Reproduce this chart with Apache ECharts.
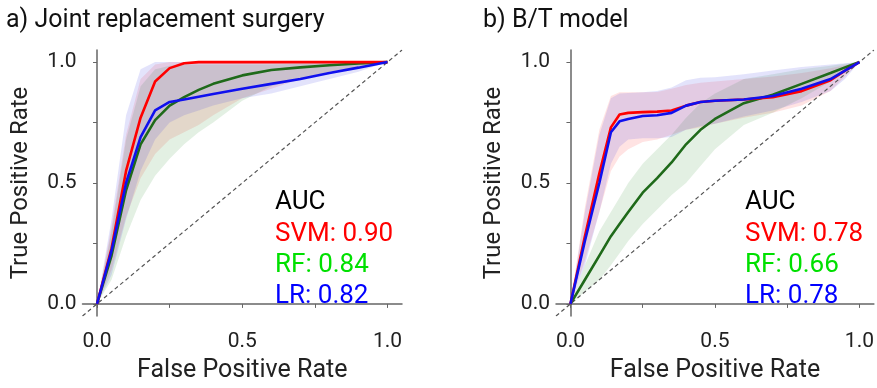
<!DOCTYPE html>
<html>
<head>
<meta charset="utf-8">
<script src="https://cdn.jsdelivr.net/npm/echarts@6/dist/echarts.min.js"></script>
<style>
  html, body { margin: 0; padding: 0; background: #fff; }
  #main { width: 877px; height: 388px; }
</style>
</head>
<body>
<div id="main"></div>
<script>
  // panel a) Joint replacement surgery
  var fprA = [0, 0.05, 0.1, 0.15, 0.2, 0.25, 0.3, 0.35, 0.4, 0.5, 0.6, 0.7, 0.8, 0.9, 1.0];
  var svmA = [0, 0.23, 0.55, 0.77, 0.92, 0.975, 0.995, 1, 1, 1, 1, 1, 1, 1, 1];
  var svmAHigh = [0, 0.32, 0.7, 0.93, 0.99, 1, 1, 1, 1, 1, 1, 1, 1, 1, 1];
  var svmALow = [0, 0.14, 0.36, 0.52, 0.62, 0.68, 0.71, 0.74, 0.78, 0.85, 0.89, 0.93, 0.96, 0.98, 1];
  var rfA = [0, 0.2, 0.47, 0.66, 0.76, 0.82, 0.855, 0.885, 0.91, 0.945, 0.967, 0.978, 0.987, 0.994, 1];
  var rfAHigh = [0, 0.3, 0.68, 0.9, 0.97, 0.985, 0.99, 0.99, 0.99, 0.99, 0.99, 0.993, 0.995, 0.998, 1];
  var rfALow = [0, 0.1, 0.28, 0.43, 0.53, 0.6, 0.66, 0.71, 0.75, 0.84, 0.9, 0.93, 0.96, 0.98, 1];
  var lrA = [0, 0.22, 0.5, 0.69, 0.8, 0.835, 0.845, 0.857, 0.868, 0.89, 0.91, 0.93, 0.955, 0.977, 1];
  var lrAHigh = [0, 0.35, 0.78, 0.97, 1, 1, 1, 1, 1, 1, 1, 1, 1, 1, 1];
  var lrALow = [0, 0.12, 0.35, 0.55, 0.68, 0.75, 0.78, 0.8, 0.82, 0.85, 0.87, 0.9, 0.93, 0.96, 1];

  // panel b) B/T model
  var fprB = [0, 0.05, 0.1, 0.14, 0.17, 0.2, 0.25, 0.3, 0.35, 0.4, 0.45, 0.5, 0.6, 0.7, 0.8, 0.9, 0.95, 1.0];
  var svmB = [0, 0.28, 0.54, 0.73, 0.783, 0.79, 0.793, 0.795, 0.8, 0.82, 0.835, 0.84, 0.845, 0.855, 0.88, 0.925, 0.965, 1];
  var svmBHigh = [0, 0.4, 0.72, 0.86, 0.875, 0.875, 0.875, 0.876, 0.89, 0.905, 0.915, 0.92, 0.93, 0.94, 0.955, 0.975, 0.988, 1];
  var svmBLow = [0, 0.18, 0.38, 0.55, 0.61, 0.64, 0.67, 0.68, 0.7, 0.72, 0.73, 0.745, 0.77, 0.79, 0.82, 0.88, 0.94, 1];
  var rfB = [0, 0.1, 0.2, 0.28, 0.33, 0.38, 0.46, 0.52, 0.585, 0.66, 0.72, 0.765, 0.83, 0.865, 0.91, 0.955, 0.978, 1];
  var rfBHigh = [0, 0.16, 0.3, 0.38, 0.44, 0.5, 0.58, 0.64, 0.7, 0.77, 0.83, 0.87, 0.93, 0.95, 0.97, 0.985, 0.993, 1];
  var rfBLow = [0, 0.05, 0.1, 0.16, 0.21, 0.26, 0.33, 0.39, 0.45, 0.5, 0.57, 0.64, 0.74, 0.79, 0.85, 0.92, 0.96, 1];
  var lrB = [0, 0.26, 0.5, 0.71, 0.755, 0.765, 0.777, 0.78, 0.79, 0.82, 0.835, 0.84, 0.845, 0.86, 0.89, 0.93, 0.965, 1];
  var lrBHigh = [0, 0.38, 0.7, 0.85, 0.87, 0.872, 0.875, 0.88, 0.895, 0.925, 0.935, 0.937, 0.95, 0.965, 0.98, 0.99, 0.995, 1];
  var lrBLow = [0, 0.16, 0.38, 0.58, 0.65, 0.68, 0.685, 0.685, 0.69, 0.72, 0.735, 0.745, 0.775, 0.8, 0.835, 0.88, 0.93, 1];

  var aucA = ['SVM: 0.90', 'RF: 0.84', 'LR: 0.82'];
  var aucB = ['SVM: 0.78', 'RF: 0.66', 'LR: 0.78'];
  var tickVals = [0, 0.25, 0.5, 0.75, 1];
  var labelVals = [0, 0.5, 1];

  var FONT = 'Roboto';
  var chart = echarts.init(document.getElementById('main'));

  function zip(xs, ys) {
    return xs.map(function (x, i) { return [x, ys[i]]; });
  }

  // shaded band between hi and lo, drawn through the axis scales
  function band(idx, xs, hi, lo, color) {
    return {
      type: 'custom',
      xAxisIndex: idx,
      yAxisIndex: idx,
      silent: true,
      data: [[0, 0]],
      renderItem: function (params, api) {
        var pts = [];
        for (var i = 0; i < xs.length; i++) pts.push(api.coord([xs[i], hi[i]]));
        for (var j = xs.length - 1; j >= 0; j--) pts.push(api.coord([xs[j], lo[j]]));
        return { type: 'polygon', shape: { points: pts }, style: { fill: color } };
      }
    };
  }

  function curve(idx, xs, ys, color) {
    return {
      type: 'line',
      xAxisIndex: idx,
      yAxisIndex: idx,
      data: zip(xs, ys),
      symbol: 'none',
      silent: true,
      lineStyle: { color: color, width: 2.6 }
    };
  }

  function diag(idx) {
    return {
      type: 'line',
      xAxisIndex: idx,
      yAxisIndex: idx,
      data: [[-0.05, -0.05], [1.05, 1.05]],
      symbol: 'none',
      silent: true,
      lineStyle: { color: '#555', width: 1.2, type: [4, 3] }
    };
  }

  function axisX(idx) {
    return {
      type: 'value', gridIndex: idx, min: -0.05, max: 1.05,
      name: 'False Positive Rate', nameLocation: 'middle', nameGap: 42,
      nameTextStyle: { fontFamily: FONT, fontSize: 25, color: '#222' },
      splitLine: { show: false },
      axisLine: { lineStyle: { color: '#666', width: 1.5 } },
      axisTick: { show: true, length: 4, lineStyle: { color: '#666' }, customValues: tickVals },
      axisLabel: {
        fontFamily: FONT, fontSize: 21, color: '#222', margin: 15,
        customValues: labelVals,
        formatter: function (v) { return v.toFixed(1); }
      }
    };
  }

  function axisY(idx) {
    return {
      type: 'value', gridIndex: idx, min: -0.05, max: 1.05,
      name: 'True Positive Rate', nameLocation: 'middle', nameGap: 50,
      nameTextStyle: { fontFamily: FONT, fontSize: 24, color: '#222' },
      splitLine: { show: false },
      axisLine: { lineStyle: { color: '#666', width: 1.5 } },
      axisTick: { show: true, length: 4, lineStyle: { color: '#666' }, customValues: tickVals },
      axisLabel: {
        fontFamily: FONT, fontSize: 21, color: '#222', margin: 6,
        customValues: labelVals,
        formatter: function (v) { return v.toFixed(1); }
      }
    };
  }

  function aucText(left, lines) {
    var colors = ['#ff0000', '#00e000', '#0000ff'];
    var out = [{
      type: 'text', left: left, top: 189,
      style: { text: 'AUC', fill: '#000', font: '26px ' + FONT }
    }];
    lines.forEach(function (t, i) {
      out.push({
        type: 'text', left: left, top: 221 + i * 31,
        style: { text: t, fill: colors[i], font: '26px ' + FONT }
      });
    });
    return out;
  }

  var RED = '#ff0000', GREEN = '#1f6a1a', BLUE = '#1010ee';
  var RED_F = 'rgba(255,60,60,0.14)', GREEN_F = 'rgba(40,140,40,0.13)', BLUE_F = 'rgba(60,60,230,0.14)';

  chart.setOption({
    animation: false,
    grid: [
      { left: 82.5, top: 50, width: 319.5, height: 268 },
      { left: 556, top: 50, width: 319, height: 269 }
    ],
    xAxis: [axisX(0), axisX(1)],
    yAxis: [axisY(0), axisY(1)],
    graphic: [
      { type: 'text', left: 6, top: 8, style: { text: 'a) Joint replacement surgery', fill: '#111', font: '25px ' + FONT } },
      { type: 'text', left: 483, top: 8, style: { text: 'b) B/T model', fill: '#111', font: '25px ' + FONT } }
    ].concat(aucText(275, aucA), aucText(745, aucB)),
    series: [
      diag(0),
      band(0, fprA, svmAHigh, svmALow, RED_F),
      band(0, fprA, rfAHigh, rfALow, GREEN_F),
      band(0, fprA, lrAHigh, lrALow, BLUE_F),
      curve(0, fprA, rfA, GREEN),
      curve(0, fprA, svmA, RED),
      curve(0, fprA, lrA, BLUE),
      diag(1),
      band(1, fprB, svmBHigh, svmBLow, RED_F),
      band(1, fprB, rfBHigh, rfBLow, GREEN_F),
      band(1, fprB, lrBHigh, lrBLow, BLUE_F),
      curve(1, fprB, rfB, GREEN),
      curve(1, fprB, svmB, RED),
      curve(1, fprB, lrB, BLUE)
    ]
  });
</script>
</body>
</html>
